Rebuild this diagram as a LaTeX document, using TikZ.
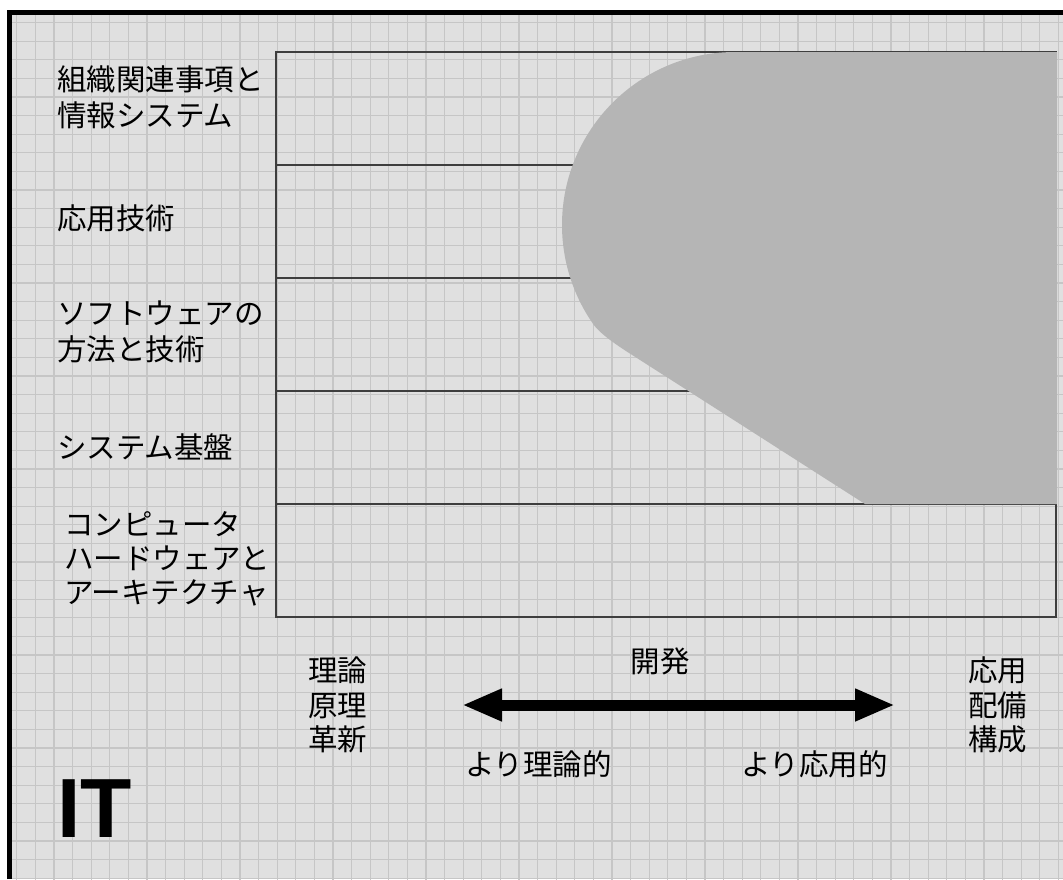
\documentclass[tikz,border=0pt]{standalone}
\usepackage{fontspec}
\newfontfamily\jpfont{Noto Sans CJK JP}
\newfontfamily\itfont{Liberation Sans}
\usetikzlibrary{arrows.meta}
\definecolor{paper}{RGB}{224,224,224}
\definecolor{gridgray}{RGB}{198,198,198}
\definecolor{blobgray}{RGB}{181,181,181}
\definecolor{rulegray}{RGB}{62,62,62}
\tikzset{
  rowtext/.style={anchor=west, inner sep=0pt, align=left,
    font=\jpfont\fontsize{29.5}{36.5}\selectfont},
  axistext/.style={inner sep=0pt, align=center,
    font=\jpfont\fontsize{29.5}{34.5}\selectfont},
  rowline/.style={draw=rulegray, line width=1.8pt},
  gridline/.style={draw=gridgray, line width=1.2pt},
  devarrow/.style={line width=11pt,
    {Triangle[length=40pt,width=30pt]}-{Triangle[length=40pt,width=30pt]}}
}
\begin{document}
\begin{tikzpicture}[x=1pt, y=1pt]
      \useasboundingbox (0,0) rectangle (1063,-879);
      \fill[white] (0,0) rectangle (1063,-879);
      % grid paper
      \fill[paper] (9.5,-12.5) rectangle (1063,-879);
      \begin{scope}
        \clip (9.5,-12.5) rectangle (1063,-879);
        \draw[gridline, shift={(-1.9,-4)}] (-20,20) grid[step=18.6] (1100,-900);
      \end{scope}
      \draw[line width=4.5pt] (9.5,-879) -- (9.5,-12.5) -- (1063,-12.5);
      % layers table
      \draw[rowline] (276,-52) rectangle (1056,-617);
      \draw[rowline] (276,-165) -- (1056,-165);
      \draw[rowline] (276,-278) -- (1056,-278);
      \draw[rowline] (276,-391) -- (1056,-391);
      \draw[rowline] (276,-504) -- (1056,-504);
      % focus area
      \fill[blobgray] (1057,-52) -- (735,-52)
        arc[start angle=90, end angle=215, radius=173]
        .. controls (601.9,-336.5) and (627.4,-351.9) .. (640,-360)
        -- (865,-504) -- (1057,-504) -- cycle;
      % row labels
      \node[rowtext] (org) at (57,-97.5) {組織関連事項と\\情報システム};
      \node[rowtext] (app) at (57,-218) {応用技術};
      \node[rowtext] (soft) at (57,-332) {ソフトウェアの\\方法と技術};
      \node[rowtext] (sys) at (57,-447) {システム基盤};
      \node[rowtext, font=\jpfont\fontsize{29.5}{34}\selectfont]
        (hw) at (64,-559) {コンピュータ\\ハードウェアと\\アーキテクチャ};
      % axis
      \node[axistext] (theory) at (337.5,-705) {理論\\原理\\革新};
      \node[axistext] (deploy) at (997.5,-705) {応用\\配備\\構成};
      \node[axistext] (dev) at (660,-661) {開発};
      \node[axistext] (moretheory) at (538.5,-764) {より理論的};
      \node[axistext] (moreapp) at (814.5,-764) {より応用的};
      \coordinate (lefttip) at (462,-705);
      \coordinate (righttip) at (895,-705);
      \draw[devarrow] (lefttip) -- (righttip);
      \node[anchor=base west, inner sep=0pt,
        font=\itfont\bfseries\fontsize{84}{84}\selectfont] (it) at (57,-837) {IT};
    \end{tikzpicture}
\end{document}
